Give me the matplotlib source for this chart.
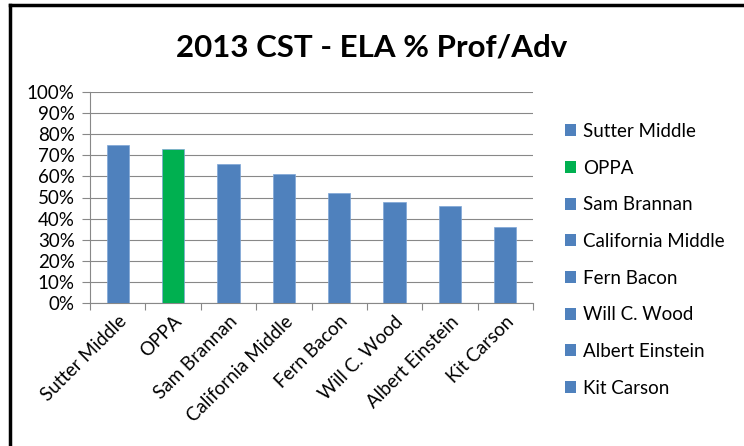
import matplotlib.pyplot as plt
from matplotlib.patches import Patch
from matplotlib.lines import Line2D
from matplotlib.ticker import PercentFormatter

schools = ["Sutter Middle", "OPPA", "Sam Brannan", "California Middle",
           "Fern Bacon", "Will C. Wood", "Albert Einstein", "Kit Carson"]
pct = [75, 73, 66, 61, 52, 48, 46, 36]
colors = ["#4f81bd", "#00b050", "#4f81bd", "#4f81bd",
          "#4f81bd", "#4f81bd", "#4f81bd", "#4f81bd"]

plt.rcParams['font.family'] = ['Lato', 'DejaVu Sans']

fig = plt.figure(figsize=(7.44, 4.46), dpi=100)
ax = fig.add_axes([90 / 744, 1 - 303 / 446, (533 - 90) / 744, (303 - 92) / 446])

x = range(len(schools))
ax.bar(x, pct, width=0.4, color=colors, edgecolor="#7ea6d6", linewidth=0.5, zorder=3)
ax.set_xlim(-0.5, len(schools) - 0.5)
ax.set_ylim(0, 100)
ax.set_yticks(range(0, 101, 10))
ax.yaxis.set_major_formatter(PercentFormatter(decimals=0))
ax.set_xticks([i - 0.5 for i in range(len(schools) + 1)], minor=False)
ax.set_xticklabels([])
ax.set_xticks(list(x), minor=True)
ax.set_xticklabels(schools, minor=True, rotation=45, ha="right", rotation_mode="anchor",
                   fontsize=13.5)
ax.tick_params(axis="x", which="minor", length=0, pad=7)
ax.tick_params(axis="x", which="major", length=5, color="#888888", direction="out")
ax.tick_params(axis="y", length=6, color="#888888", labelsize=13.5, pad=5)
ax.grid(axis="y", color="#888888", linewidth=0.8, zorder=0)
for s in ["top", "right"]:
    ax.spines[s].set_visible(False)
ax.spines["left"].set_color("#888888")
ax.spines["bottom"].set_color("#888888")

handles = [Patch(facecolor=c, edgecolor="none") for c in colors]
fig.legend(handles, schools, loc="upper left", bbox_to_anchor=(548 / 744, 1 - 106 / 446),
           frameon=False, fontsize=13.5, handlelength=0.6, handleheight=0.6,
           handletextpad=0.35, labelspacing=1.05)

fig.text(0.5, 1 - 47 / 446, "2013 CST - ELA % Prof/Adv", ha="center", va="center",
         fontsize=22.5, fontweight="bold")

# frame edges visible in the reference (left and top)
fig.add_artist(Line2D([9.5 / 744, 9.5 / 744], [0, 1 - 4.5 / 446], color="black",
                      linewidth=2.5, transform=fig.transFigure))
fig.add_artist(Line2D([9.5 / 744, 1], [1 - 4.5 / 446, 1 - 4.5 / 446], color="black",
                      linewidth=2.5, transform=fig.transFigure))

fig.savefig("out.png", dpi=100)
